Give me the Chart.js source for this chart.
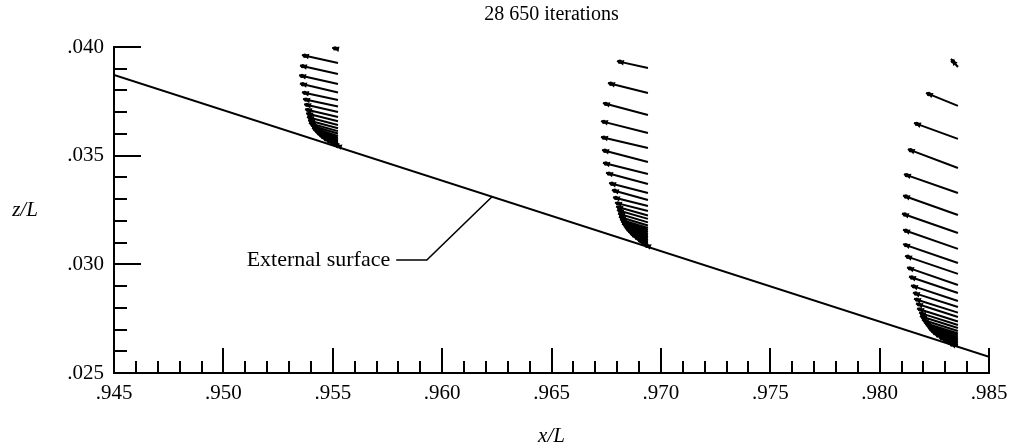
<!DOCTYPE html>
<html>
<head>
<meta charset="utf-8">
<script src="https://cdn.jsdelivr.net/npm/chart.js@4.4.1/dist/chart.umd.min.js"></script>
<style>
  html, body { margin: 0; padding: 0; background: #fff; }
</style>
</head>
<body>
<canvas id="chart" width="1016" height="446"></canvas>
<script>
// axis ranges / labels
const xRange = [0.945, 0.985];
const zRange = [0.025, 0.040];
const xLabelStep = 0.005;
const zLabelStep = 0.005;
const minorStep = 0.001;

// external surface (wall)
const surfaceX = [0.945, 0.985];
const surfaceZ = [0.03871, 0.02574];

// velocity vector stations: tails sit on x = stationX, heads at tail + (u, w)
const stationX = [0.95524, 0.96941, 0.98358];

const zTail1 = [0.03991, 0.03926, 0.03876, 0.03830, 0.03791, 0.03756, 0.03726, 0.03701, 0.03678, 0.03658,
  0.03641, 0.03626, 0.03613, 0.03602, 0.03591, 0.03583, 0.03575, 0.03569, 0.03563, 0.03558,
  0.03554, 0.03550, 0.03547, 0.03544, 0.03540];
const u1 = [-0.00027, -0.00165, -0.00174, -0.00178, -0.00174, -0.00165, -0.00160, -0.00155, -0.00151, -0.00146,
  -0.00142, -0.00137, -0.00133, -0.00123, -0.00119, -0.00110, -0.00101, -0.00091, -0.00082, -0.00069,
  -0.00055, -0.00041, -0.00027, -0.00014, 0];
const w1 = [0.00005, 0.00037, 0.00039, 0.00040, 0.00041, 0.00036, 0.00035, 0.00036, 0.00036, 0.00037,
  0.00037, 0.00037, 0.00037, 0.00036, 0.00036, 0.00034, 0.00032, 0.00029, 0.00027, 0.00022,
  0.00018, 0.00013, 0.00009, 0.00004, 0];

const zTail2 = [0.03903, 0.03788, 0.03687, 0.03604, 0.03535, 0.03471, 0.03416, 0.03370, 0.03328, 0.03296,
  0.03268, 0.03245, 0.03225, 0.03209, 0.03193, 0.03179, 0.03167, 0.03158, 0.03149, 0.03140,
  0.03133, 0.03126, 0.03119, 0.03112, 0.03105, 0.03098, 0.03091, 0.03084, 0.03077];
const u2 = [-0.00142, -0.00183, -0.00206, -0.00215, -0.00215, -0.00210, -0.00206, -0.00192, -0.00178, -0.00165,
  -0.00160, -0.00151, -0.00146, -0.00142, -0.00137, -0.00133, -0.00128, -0.00123, -0.00119, -0.00110,
  -0.00105, -0.00096, -0.00087, -0.00078, -0.00064, -0.00050, -0.00037, -0.00018, 0];
const w2 = [0.00032, 0.00046, 0.00055, 0.00055, 0.00051, 0.00055, 0.00051, 0.00051, 0.00046, 0.00046,
  0.00041, 0.00039, 0.00041, 0.00041, 0.00041, 0.00040, 0.00040, 0.00039, 0.00038, 0.00035,
  0.00034, 0.00031, 0.00028, 0.00025, 0.00021, 0.00016, 0.00012, 0.00006, 0];

const zTail3 = [0.03908, 0.03729, 0.03577, 0.03443, 0.03328, 0.03227, 0.03144, 0.03071, 0.03006, 0.02956,
  0.02905, 0.02868, 0.02831, 0.02804, 0.02778, 0.02758, 0.02737, 0.02721, 0.02707, 0.02693,
  0.02682, 0.02673, 0.02663, 0.02656, 0.02650, 0.02643, 0.02636, 0.02629, 0.02622, 0.02615];
const u3 = [-0.00032, -0.00146, -0.00201, -0.00229, -0.00247, -0.00251, -0.00256, -0.00251, -0.00251, -0.00242,
  -0.00233, -0.00224, -0.00215, -0.00206, -0.00201, -0.00192, -0.00187, -0.00178, -0.00174, -0.00165,
  -0.00155, -0.00146, -0.00137, -0.00128, -0.00119, -0.00105, -0.00087, -0.00069, -0.00041, 0];
const w3 = [0.00037, 0.00060, 0.00074, 0.00087, 0.00087, 0.00090, 0.00090, 0.00088, 0.00087, 0.00083,
  0.00081, 0.00076, 0.00072, 0.00066, 0.00064, 0.00062, 0.00060, 0.00057, 0.00055, 0.00053,
  0.00050, 0.00047, 0.00044, 0.00041, 0.00038, 0.00034, 0.00028, 0.00022, 0.00013, 0];

// "External surface" callout: text end point, elbow, point on the wall
const calloutText = "External surface";
const calloutX = [0.9579, 0.9593, 0.96228];
const calloutZ = [0.0302, 0.0302, 0.03311];

const stations = [
  { x: stationX[0], z: zTail1, u: u1, w: w1 },
  { x: stationX[1], z: zTail2, u: u2, w: w2 },
  { x: stationX[2], z: zTail3, u: u3, w: w3 },
];

const serif = "'Liberation Serif', 'Times New Roman', serif";

const fmt = (v) => "." + String(Math.round(v * 1000)).padStart(3, "0");

// shafts as line segments separated by gaps
function vectorData(st) {
  const pts = [];
  st.z.forEach((z, i) => {
    pts.push({ x: st.x, y: z });
    pts.push({ x: st.x + st.u[i], y: z + st.w[i] });
    pts.push({ x: st.x, y: null });
  });
  return pts;
}

const datasets = [
  {
    label: "surface",
    data: surfaceX.map((x, i) => ({ x: x, y: surfaceZ[i] })),
    borderColor: "#000",
    borderWidth: 2,
    pointRadius: 0,
    showLine: true,
  },
];
stations.forEach((st, k) => {
  datasets.push({
    label: "station " + (k + 1),
    data: vectorData(st),
    borderColor: "#000",
    borderWidth: 2,
    pointRadius: 0,
    showLine: true,
    spanGaps: false,
  });
});

// ticks are drawn inside the frame, major every .005, minor every .001
const insideTicks = {
  id: "insideTicks",
  afterDraw(chart) {
    const { ctx, chartArea, scales } = chart;
    ctx.save();
    ctx.strokeStyle = "#000";
    ctx.lineWidth = 2;
    const nx = Math.round((xRange[1] - xRange[0]) / minorStep);
    for (let i = 0; i <= nx; i++) {
      const px = Math.round(scales.x.getPixelForValue(xRange[0] + i * minorStep));
      const len = i % 5 === 0 ? 25 : 12;
      ctx.beginPath();
      ctx.moveTo(px, chartArea.bottom);
      ctx.lineTo(px, chartArea.bottom - len);
      ctx.stroke();
    }
    const nz = Math.round((zRange[1] - zRange[0]) / minorStep);
    for (let i = 0; i <= nz; i++) {
      const py = Math.round(scales.y.getPixelForValue(zRange[0] + i * minorStep));
      const len = i % 5 === 0 ? 27 : 13;
      ctx.beginPath();
      ctx.moveTo(chartArea.left, py);
      ctx.lineTo(chartArea.left + len, py);
      ctx.stroke();
    }
    ctx.restore();
  },
};

const arrowHeads = {
  id: "arrowHeads",
  afterDatasetsDraw(chart) {
    const { ctx, scales } = chart;
    ctx.save();
    ctx.fillStyle = "#000";
    stations.forEach((st) => {
      st.z.forEach((z, i) => {
        if (st.u[i] === 0 && st.w[i] === 0) return;
        const tx = scales.x.getPixelForValue(st.x);
        const ty = scales.y.getPixelForValue(z);
        const hx = scales.x.getPixelForValue(st.x + st.u[i]);
        const hy = scales.y.getPixelForValue(z + st.w[i]);
        const a = Math.atan2(hy - ty, hx - tx);
        const len = 7, half = 2.8;
        ctx.beginPath();
        ctx.moveTo(hx - 1 * Math.cos(a), hy - 1 * Math.sin(a));
        ctx.lineTo(hx - len * Math.cos(a) + half * Math.sin(a), hy - len * Math.sin(a) - half * Math.cos(a));
        ctx.lineTo(hx - len * Math.cos(a) - half * Math.sin(a), hy - len * Math.sin(a) + half * Math.cos(a));
        ctx.closePath();
        ctx.fill();
        ctx.beginPath();
        ctx.arc(hx - 3 * Math.cos(a), hy - 3 * Math.sin(a), 2.2, 0, Math.PI * 2);
        ctx.fill();
      });
    });
    ctx.restore();
  },
};

const annotations = {
  id: "annotations",
  afterDraw(chart) {
    const { ctx, scales } = chart;
    ctx.save();
    ctx.fillStyle = "#000";
    ctx.strokeStyle = "#000";
    // z/L axis label, horizontal
    ctx.font = "italic 21px " + serif;
    ctx.textAlign = "center";
    ctx.textBaseline = "middle";
    ctx.fillText("z/L", 25, scales.y.getPixelForValue(0.0325));
    // callout
    const px = calloutX.map((v) => scales.x.getPixelForValue(v));
    const py = calloutZ.map((v) => scales.y.getPixelForValue(v));
    ctx.font = "22px " + serif;
    ctx.textAlign = "right";
    ctx.fillText(calloutText, px[0] - 6, py[0]);
    ctx.lineWidth = 1.6;
    ctx.beginPath();
    ctx.moveTo(px[0], py[0]);
    ctx.lineTo(px[1], py[1]);
    ctx.lineTo(px[2], py[2]);
    ctx.stroke();
    ctx.restore();
  },
};

new Chart(document.getElementById("chart"), {
  type: "scatter",
  data: { datasets: datasets },
  options: {
    responsive: false,
    animation: false,
    events: [],
    layout: { padding: { left: 0, right: 27, top: 0, bottom: 0 } },
    plugins: {
      legend: { display: false },
      tooltip: { enabled: false },
      title: {
        display: true,
        fullSize: false,
        text: "28 650 iterations",
        color: "#000",
        font: { family: serif, size: 20, weight: "normal", lineHeight: 1.2 },
        padding: { top: 3, bottom: 20 },
      },
    },
    scales: {
      x: {
        type: "linear",
        min: xRange[0],
        max: xRange[1],
        afterFit: (s) => { s.height = 73; },
        grid: { display: false, drawTicks: false },
        border: { display: true, color: "#000", width: 2 },
        ticks: {
          stepSize: xLabelStep,
          autoSkip: false,
          maxRotation: 0,
          padding: 8,
          color: "#000",
          font: { family: serif, size: 21 },
          callback: (v) => fmt(v),
        },
        title: {
          display: true,
          text: "x/L",
          color: "#000",
          font: { family: serif, size: 21, style: "italic", lineHeight: 1 },
          padding: { top: 0, bottom: -1 },
        },
      },
      y: {
        type: "linear",
        min: zRange[0],
        max: zRange[1],
        afterFit: (s) => { s.width = 114; },
        grid: { display: false, drawTicks: false },
        border: { display: true, color: "#000", width: 2 },
        ticks: {
          stepSize: zLabelStep,
          padding: 10,
          color: "#000",
          font: { family: serif, size: 21 },
          callback: (v) => fmt(v),
        },
      },
    },
  },
  plugins: [insideTicks, arrowHeads, annotations],
});
</script>
</body>
</html>
